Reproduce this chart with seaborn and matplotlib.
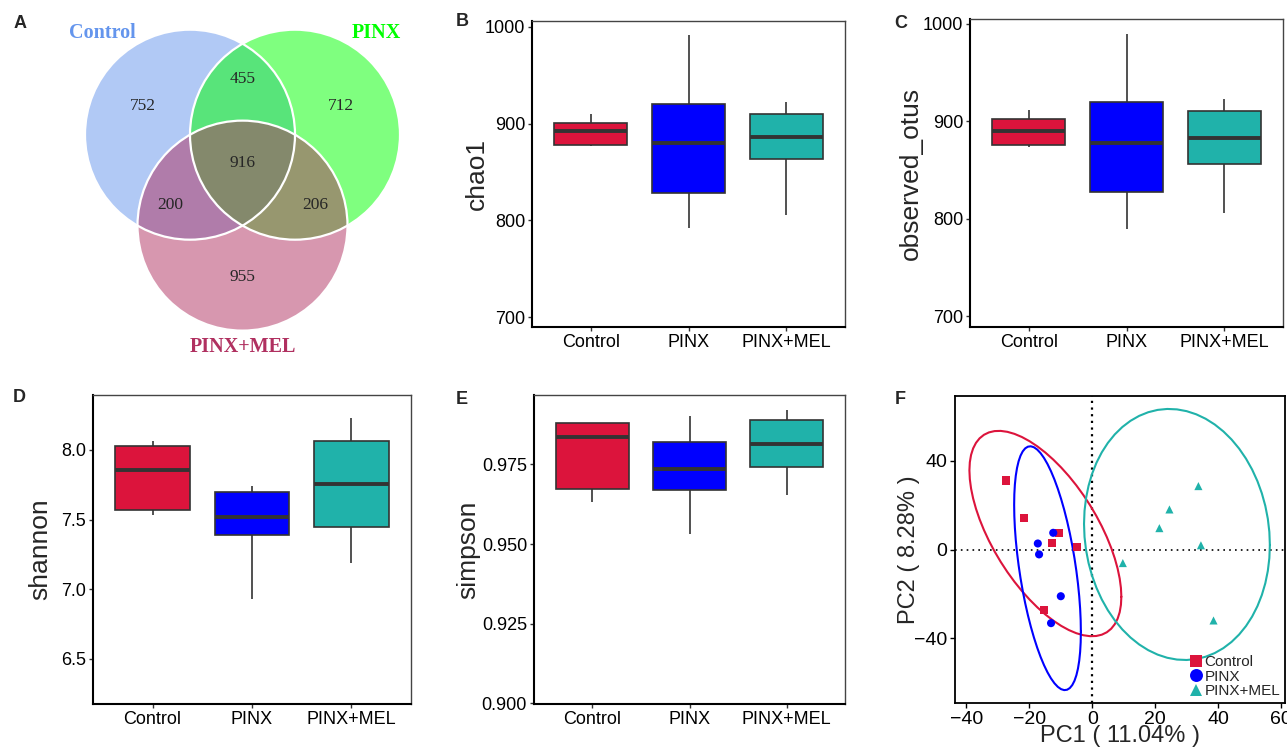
import numpy as np
import pandas as pd
import matplotlib
matplotlib.use("Agg")
import matplotlib.pyplot as plt
from matplotlib.colors import to_rgba
from matplotlib.patches import Circle
import seaborn as sns

# ---------------- data ----------------
groups = ["Control", "PINX", "PINX+MEL"]
group_colors = ["#DC143C", "#0000FF", "#20B2AA"]

# Venn (OTU counts)
venn_sets = ["Control", "PINX", "PINX+MEL"]
venn_colors = ["#6495ED", "#00FF00", "#B03060"]
venn_only = [752, 712, 955]          # Control only, PINX only, PINX+MEL only
venn_pairs = [455, 200, 206]         # Control&PINX, Control&MEL, PINX&MEL
venn_all = 916

# alpha diversity per group: min, q1, median, q3, max
chao1 = [[877, 878, 892, 901, 910],
         [792, 828, 880, 920, 992],
         [806, 863, 886, 910, 922]]
observed_otus = [[874, 876, 890, 902, 912],
                 [790, 827, 878, 920, 990],
                 [806, 856, 883, 911, 923]]
shannon = [[7.533, 7.571, 7.859, 8.029, 8.067],
           [6.931, 7.389, 7.521, 7.698, 7.739],
           [7.185, 7.444, 7.753, 8.067, 8.232]]
simpson = [[0.9631, 0.9673, 0.9836, 0.9879, 0.9881],
           [0.9531, 0.9671, 0.9735, 0.9820, 0.9901],
           [0.9654, 0.9743, 0.9815, 0.9891, 0.9922]]

# PCA scores
pc1_control = [-27.3, -21.6, -10.5, -12.8, -4.9, -15.2]
pc2_control = [31.0, 14.1, 7.5, 2.8, 1.0, -27.0]
pc1_pinx = [-12.4, -17.3, -16.9, -10.0, -13.1]
pc2_pinx = [7.5, 2.7, -2.2, -21.0, -33.1]
pc1_mel = [33.7, 24.5, 21.3, 34.5, 9.7, 38.5]
pc2_mel = [28.5, 18.0, 9.6, 1.9, -6.1, -31.9]

palette = dict(zip(groups, group_colors))

sns.set_style("white")
plt.rcParams["font.family"] = ["Liberation Sans", "DejaVu Sans"]

W, H = 1287, 753
fig = plt.figure(figsize=(W / 100, H / 100), dpi=100)


def px_axes(x0, y0, x1, y1):
    return fig.add_axes([x0 / W, 1 - y1 / H, (x1 - x0) / W, (y1 - y0) / H])


def long_df(values):
    rows = [(g, v) for g, vals in zip(groups, values) for v in vals]
    return pd.DataFrame(rows, columns=["group", "value"])


# ---------------- A: Venn ----------------
ax = px_axes(0, 0, 470, 370)
ax.set_xlim(-242.5 / 105, 227.5 / 105)
ax.set_ylim(-205 / 105, 165 / 105)
ax.axis("off")
centers = [(-0.5, 0.2887), (0.5, 0.2887), (0.0, -0.5774)]
for c, col in zip(centers, venn_colors):
    ax.add_patch(Circle(c, 1.0, facecolor=to_rgba(col, 0.5), edgecolor="none"))
for c in centers:
    ax.add_patch(Circle(c, 1.0, facecolor="none", edgecolor="white", lw=1.6))

only_pos = [(-0.95, 0.56), (0.94, 0.56), (0.0, -1.07)]
pair_pos = [(0.0, 0.82), (-0.69, -0.38), (0.69, -0.38)]
for (x, y), n in zip(only_pos, venn_only):
    ax.text(x, y, str(n), ha="center", va="center", fontsize=12.5, family="Liberation Serif")
for (x, y), n in zip(pair_pos, venn_pairs):
    ax.text(x, y, str(n), ha="center", va="center", fontsize=12.5, family="Liberation Serif")
ax.text(0.0, 0.02, str(venn_all), ha="center", va="center", fontsize=12.5, family="Liberation Serif")
name_pos = [(-1.33, 1.26), (1.27, 1.26), (0.0, -1.73)]
for (x, y), name, col in zip(name_pos, venn_sets, venn_colors):
    ax.text(x, y, name, ha="center", va="center", fontsize=14.5, fontweight="bold",
            family="Liberation Serif", color=col)


# ---------------- B-E: boxplots ----------------
def box_panel(box, values, ylim, yticks, fmt, ylabel, label_x):
    ax = px_axes(*box)
    sns.boxplot(data=long_df(values), x="group", y="value", hue="group", order=groups,
                hue_order=groups, palette=palette, saturation=1, width=0.75,
                whis=(0, 100), showcaps=False, linecolor="#333333", linewidth=1.2,
                medianprops={"linewidth": 2.8}, legend=False, ax=ax)
    ax.set_xlim(-0.6, 2.6)
    ax.set_ylim(*ylim)
    ax.set_yticks(yticks)
    ax.set_yticklabels([fmt.format(t) for t in yticks])
    ax.set_xlabel("")
    ax.set_ylabel(ylabel, fontsize=19)
    ax.yaxis.set_label_coords(label_x, 0.5)
    ax.tick_params(labelsize=13, length=3, width=1, color="#333333",
                   labelcolor="black", pad=2, bottom=True, left=True)
    for s in ["left", "bottom"]:
        ax.spines[s].set_linewidth(1.5)
        ax.spines[s].set_color("black")
    for s in ["top", "right"]:
        ax.spines[s].set_linewidth(1.0)
        ax.spines[s].set_color("#444444")
    return ax


box_panel((532, 21, 845, 327), chao1, (690, 1006), [700, 800, 900, 1000], "{:.0f}",
          "chao1", -0.137)
box_panel((970, 19, 1283, 327), observed_otus, (689, 1005), [700, 800, 900, 1000], "{:.0f}",
          "observed_otus", -0.152)
box_panel((93, 395, 411, 704), shannon, (6.174, 8.395), [6.5, 7.0, 7.5, 8.0], "{:.1f}",
          "shannon", -0.128)
box_panel((534, 395, 845, 704), simpson, (0.8998, 0.9968), [0.900, 0.925, 0.950, 0.975],
          "{:.3f}", "simpson", -0.174)


# ---------------- F: PCA ----------------
def cov_trob(x, nu=5, maxit=25, tol=0.01):
    n, p = x.shape
    wt = np.ones(n)
    loc = x.mean(axis=0)
    w = np.sqrt(wt)
    for _ in range(maxit):
        w0 = w
        X = x - loc
        _, d, vt = np.linalg.svd(np.sqrt(w / w.sum())[:, None] * X, full_matrices=False)
        wX = X @ vt.T @ np.diag(1 / d)
        Q = (wX ** 2).sum(axis=1)
        w = wt * (nu + p) / (nu + Q)
        loc = (w[:, None] * x).sum(axis=0) / w.sum()
        if np.all(np.abs(w - w0) < tol):
            break
    cov = (np.sqrt(w)[:, None] * X).T @ (np.sqrt(w)[:, None] * X) / wt.sum()
    return loc, cov


def ellipse_path(x, y, level=0.95, segments=61):
    pts = np.column_stack([x, y])
    center, shape = cov_trob(pts)
    dfd = len(pts) - 1
    fq = dfd / 2 * ((1 - level) ** (-2 / dfd) - 1)   # F(2, dfd) quantile
    radius = np.sqrt(2 * fq)
    t = np.linspace(0, 2 * np.pi, segments)
    circle = np.column_stack([np.cos(t), np.sin(t)])
    e = center + radius * circle @ np.linalg.cholesky(shape).T
    return e[:, 0], e[:, 1]


pca = pd.DataFrame({
    "PC1": pc1_control + pc1_pinx + pc1_mel,
    "PC2": pc2_control + pc2_pinx + pc2_mel,
    "group": ["Control"] * len(pc1_control) + ["PINX"] * len(pc1_pinx) + ["PINX+MEL"] * len(pc1_mel),
})

ax = px_axes(955, 396, 1285, 703)
ax.axhline(0, color="black", lw=1.2, ls=(0, (1, 2.5)), zorder=1)
ax.axvline(0, color="black", lw=1.6, ls=(0, (1, 2)), zorder=1)
for g in groups:
    sub = pca[pca["group"] == g]
    ex, ey = ellipse_path(sub["PC1"].to_numpy(), sub["PC2"].to_numpy())
    sns.lineplot(x=ex, y=ey, sort=False, color=palette[g], lw=1.5, ax=ax, estimator=None)
sns.scatterplot(data=pca, x="PC1", y="PC2", hue="group", style="group", hue_order=groups,
                style_order=groups, palette=palette, markers={"Control": "s", "PINX": "o", "PINX+MEL": "^"},
                s=34, linewidth=0, ax=ax, zorder=3)
leg = ax.get_legend()
handles = leg.legend_handles
labels = [t.get_text() for t in leg.get_texts()]
leg.remove()
ax.legend(handles, labels, loc="lower right", frameon=False, fontsize=11, markerscale=1.6,
          handletextpad=0.05, labelspacing=0.05, borderaxespad=0.1, borderpad=0.2,
          handlelength=1.0)
ax.set_xlim(-43.6, 61.2)
ax.set_ylim(-69, 69)
ax.set_xticks([-40, -20, 0, 20, 40, 60])
ax.set_yticks([-40, 0, 40])
ax.set_xlabel("PC1 ( 11.04% )", fontsize=17)
ax.set_ylabel("PC2 ( 8.28% )", fontsize=17)
ax.xaxis.set_label_coords(0.5, -0.072)
ax.yaxis.set_label_coords(-0.106, 0.5)
ax.tick_params(labelsize=14, length=3.5, width=1, color="black", labelcolor="black",
               pad=2, bottom=True, left=True)
for s in ax.spines.values():
    s.set_linewidth(1.3)
    s.set_color("black")

# panel letters
for letter, (x, y) in zip("ABCDEF", [(20, 24), (462, 22), (901, 24), (19, 397), (462, 399), (900, 399)]):
    fig.text(x / W, 1 - y / H, letter, ha="center", va="center", fontsize=13, fontweight="bold")

fig.savefig("out.png", dpi=100)
